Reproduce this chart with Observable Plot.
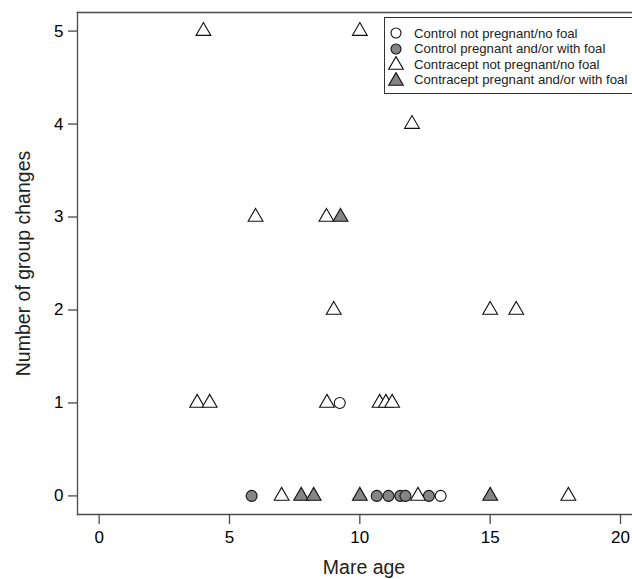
<!DOCTYPE html>
<html>
<head>
<meta charset="utf-8">
<script src="https://cdn.jsdelivr.net/npm/d3@7"></script>
<script src="https://cdn.jsdelivr.net/npm/@observablehq/plot@0.6"></script>
<style>
  html, body { margin: 0; padding: 0; background: #fff; }
  #wrap { position: relative; width: 632px; height: 579px; overflow: hidden; font-family: "Liberation Sans", Arial, sans-serif; }
  #legend { position: absolute; left: 384px; top: 17px; width: 270px; height: 77px; border: 1px solid #333; background: #fff; box-sizing: border-box; }
  .row { position: absolute; left: 0; height: 16px; display: flex; align-items: center; font-size: 13.2px; color: #222; white-space: nowrap; }
  .row svg { margin-left: 3px; margin-right: 10px; }
</style>
</head>
<body>
<div id="wrap"></div>
<script>
const groups = [
  "Control not pregnant/no foal",
  "Control pregnant and/or with foal",
  "Contracept not pregnant/no foal",
  "Contracept pregnant and/or with foal"
];
const groupSymbol = ["circle", "circle", "triangle", "triangle"];
const groupFill = ["#ffffff", "#858585", "#ffffff", "#858585"];

// Control not pregnant/no foal
const ctrlOpenAge = [9.23, 13.1];
const ctrlOpenChanges = [1, 0];
// Control pregnant and/or with foal
const ctrlFilledAge = [5.85, 10.65, 11.1, 11.55, 11.75, 12.65];
const ctrlFilledChanges = [0, 0, 0, 0, 0, 0];
// Contracept not pregnant/no foal
const contOpenAge = [4, 10, 12, 6, 8.72, 9, 15, 16, 3.76, 4.24, 8.74, 10.76, 11.0, 11.24, 7, 12.23, 18];
const contOpenChanges = [5, 5, 4, 3, 3, 2, 2, 2, 1, 1, 1, 1, 1, 1, 0, 0, 0];
// Contracept pregnant and/or with foal
const contFilledAge = [9.26, 7.75, 8.23, 10, 15];
const contFilledChanges = [3, 0, 0, 0, 0];

const xTicks = [0, 5, 10, 15, 20];
const yTicks = [0, 1, 2, 3, 4, 5];
const xLabel = "Mare age";
const yLabel = "Number of group changes";

const series = [
  [ctrlOpenAge, ctrlOpenChanges],
  [ctrlFilledAge, ctrlFilledChanges],
  [contOpenAge, contOpenChanges],
  [contFilledAge, contFilledChanges]
];
const data = [];
series.forEach(([a, c], g) => a.forEach((v, i) => data.push({age: v, changes: c[i], group: g})));

const axisColor = "#4a4a4a";
const W = 632, H = 579;
const mL = 77, mT = 12, mB = 65, mR = 0;

const chart = Plot.plot({
  width: W,
  height: H,
  marginLeft: mL,
  marginTop: mT,
  marginBottom: mB,
  marginRight: mR,
  style: {fontFamily: "'Liberation Sans', Arial, sans-serif", color: "#222", background: "#fff"},
  x: {domain: [-0.83, 20.46]},
  y: {domain: [-0.2, 5.2]},
  marks: [
    Plot.frame({anchor: "left", stroke: axisColor, strokeWidth: 1.3}),
    Plot.frame({anchor: "top", stroke: axisColor, strokeWidth: 1.3}),
    Plot.frame({anchor: "bottom", stroke: axisColor, strokeWidth: 1.3}),
    Plot.axisX({ticks: xTicks, tickFormat: "d", tickSize: 10, tickPadding: 6, fontSize: 17, label: null, stroke: axisColor, strokeWidth: 1.3}),
    Plot.axisY({ticks: yTicks, tickFormat: "d", tickSize: 9, tickPadding: 5, fontSize: 17, label: null, stroke: axisColor, strokeWidth: 1.3}),
    Plot.text([xLabel], {frameAnchor: "bottom", dy: 53, dx: 9, fontSize: 19.5, textAnchor: "middle", lineAnchor: "middle", fill: "#222"}),
    Plot.text([yLabel], {frameAnchor: "left", dx: -54, rotate: -90, fontSize: 19.5, textAnchor: "middle", lineAnchor: "middle", fill: "#222"}),
    Plot.dot(data, {
      filter: d => groupSymbol[d.group] === "circle",
      x: "age", y: "changes",
      symbol: "circle",
      fill: d => groupFill[d.group],
      r: 5.5,
      stroke: "#111", strokeWidth: 1.1
    }),
    Plot.dot(data, {
      filter: d => groupSymbol[d.group] === "triangle",
      x: "age", y: "changes",
      symbol: "triangle",
      fill: d => groupFill[d.group],
      r: 5.5,
      stroke: "#111", strokeWidth: 1.1
    })
  ]
});
chart.setAttribute("style", "display:block;font-family:'Liberation Sans',Arial,sans-serif");

const wrap = document.getElementById("wrap");
wrap.appendChild(chart);

// legend overlay
const legend = document.createElement("div");
legend.id = "legend";
const rowTops = [7, 22.5, 38, 53.5];
groups.forEach((g, i) => {
  const row = document.createElement("div");
  row.className = "row";
  row.style.top = rowTops[i] + "px";
  const s = d3.create("svg").attr("width", 16).attr("height", 16);
  const sym = groupSymbol[i] === "circle" ? d3.symbolCircle : d3.symbolTriangle;
  const size = groupSymbol[i] === "circle" ? Math.PI * 5 * 5 : Math.PI * 5.4 * 5.4;
  s.append("path")
    .attr("transform", groupSymbol[i] === "circle" ? "translate(8,8)" : "translate(8,9)")
    .attr("d", d3.symbol(sym, size)())
    .attr("fill", groupFill[i]).attr("stroke", "#111").attr("stroke-width", 1.1);
  row.appendChild(s.node());
  const t = document.createElement("span");
  t.textContent = g;
  row.appendChild(t);
  legend.appendChild(row);
});
wrap.appendChild(legend);
</script>
</body>
</html>
